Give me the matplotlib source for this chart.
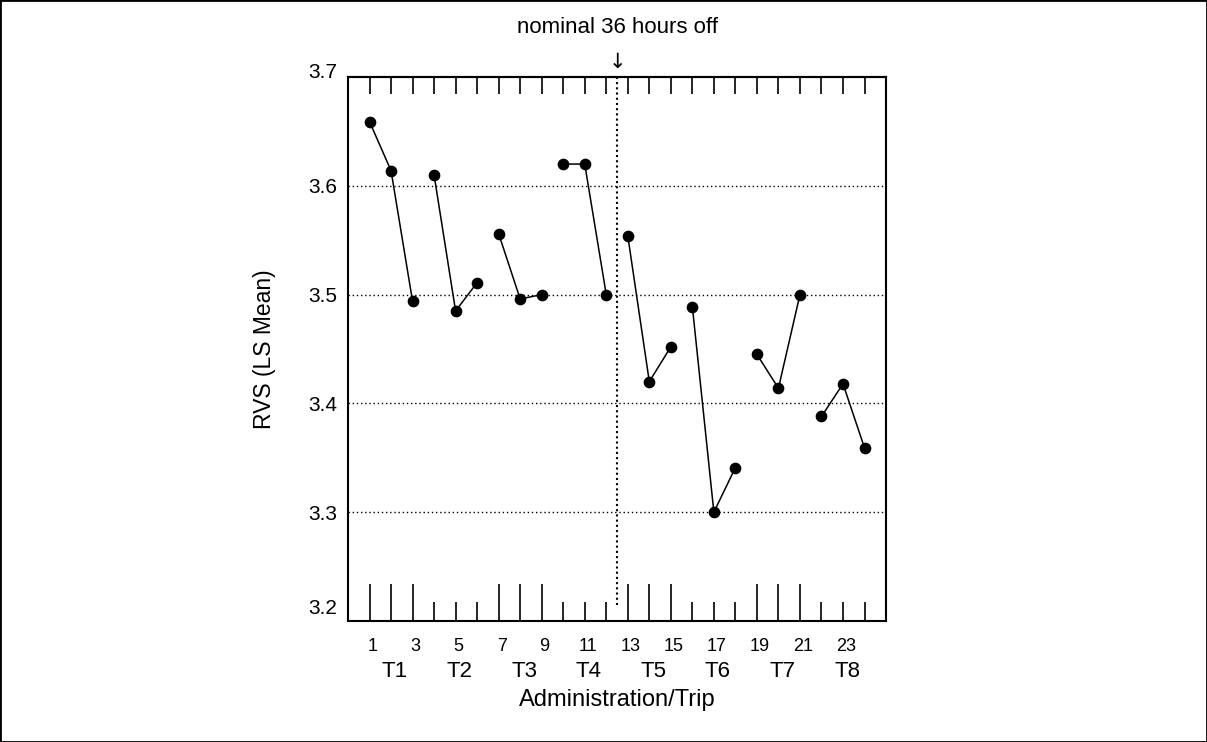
"""
RVS (LS Mean) by administration, grouped by trip
"""
import matplotlib
matplotlib.use("Agg")
import matplotlib.pyplot as plt
from matplotlib.patches import Rectangle
from matplotlib.transforms import ScaledTranslation
import numpy as np

plt.rcParams['font.family'] = ['Liberation Sans', 'DejaVu Sans']

# Data
administration = list(range(1, 25))
rvs_mean = [3.659, 3.614, 3.494,
            3.610, 3.485, 3.511,
            3.556, 3.496, 3.500,
            3.620, 3.620, 3.500,
            3.554, 3.420, 3.452,
            3.489, 3.300, 3.341,
            3.445, 3.414, 3.500,
            3.388, 3.418, 3.359]
trip_labels = ['T1', 'T2', 'T3', 'T4', 'T5', 'T6', 'T7', 'T8']
admin_per_trip = 3
y_ticks = [3.2, 3.3, 3.4, 3.5, 3.6, 3.7]
grid_levels = [3.3, 3.4, 3.5, 3.6]
number_labels = list(range(1, 24, 2))
break_position = 12.5

fig = plt.figure(figsize=(12.07, 7.42), dpi=100)
ax = fig.add_axes([0.2883, 0.1631, 0.4458, 0.7331])

# Lines only join administrations within the same trip
x = np.array(administration)
y = np.array(rvs_mean)
for i in range(len(trip_labels)):
    sl = slice(i * admin_per_trip, (i + 1) * admin_per_trip)
    ax.plot(x[sl], y[sl], color='black', linewidth=1.1, marker='o',
            markersize=7.4, markerfacecolor='black', markeredgecolor='black', zorder=3)

for lvl in grid_levels:
    ax.axhline(lvl, color='black', linestyle=(0, (1, 2)), linewidth=1.0, zorder=1)
ax.plot([break_position, break_position], [3.215, 3.7], color='black',
        linestyle=(0, (1, 1.5)), linewidth=1.5, zorder=1)

ax.set_xlim(0, 25)
ax.set_ylim(3.2, 3.7)

for s in ax.spines.values():
    s.set_linewidth(1.5)

# y axis
ax.set_yticks(y_ticks)
ax.set_yticklabels([f'{v:.1f}' for v in y_ticks], fontsize=15)
ax.tick_params(axis='y', length=0, pad=8)
ax.set_ylabel('RVS (LS Mean)', fontsize=16.5, labelpad=23)
# end labels sit a little above their level in the original
lift = {3.2: 14, 3.7: 7}
for v, lab in zip(y_ticks, ax.get_yticklabels()):
    if v in lift:
        lab.set_transform(lab.get_transform() + ScaledTranslation(0, lift[v] / 100, fig.dpi_scale_trans))

# bottom ticks: long for odd trips, short for even trips
long_ticks = [a for a in administration if ((a - 1) // admin_per_trip) % 2 == 0]
short_ticks = [a for a in administration if ((a - 1) // admin_per_trip) % 2 == 1]
ax.set_xticks(long_ticks)
ax.set_xticks(short_ticks, minor=True)
ax.set_xticklabels([])
ax.tick_params(axis='x', which='major', direction='in', length=27, width=1.2, labelbottom=False)
ax.tick_params(axis='x', which='minor', direction='in', length=13.5, width=1.2)

# top ticks, all the same length
top = ax.secondary_xaxis('top')
top.set_xticks(administration)
top.tick_params(direction='in', length=12, width=1.2, labeltop=False)
top.spines['top'].set_linewidth(1.5)

xt = ax.get_xaxis_transform()
for n in number_labels:
    ax.annotate(str(n), xy=(n, 0), xycoords=xt, xytext=(3, -26),
                textcoords='offset pixels', ha='center', va='center', fontsize=13)
for i, lab in enumerate(trip_labels):
    centre = administration[i * admin_per_trip + 1]
    ax.annotate(lab, xy=(centre, 0), xycoords=xt, xytext=(4, -51),
                textcoords='offset pixels', ha='center', va='center', fontsize=16)
ax.annotate('Administration/Trip', xy=(12.5, 0), xycoords=xt, xytext=(0, -79),
            textcoords='offset pixels', ha='center', va='center', fontsize=17)

ax.annotate('nominal 36 hours off', xy=(break_position, 1), xycoords=xt, xytext=(0, 50),
            textcoords='offset pixels', ha='center', va='center', fontsize=16)
ax.annotate('\u2193', xy=(break_position, 1), xycoords=xt, xytext=(0, 15),
            textcoords='offset pixels', ha='center', va='center', fontsize=15,
            family='DejaVu Sans')

fig.patches.append(Rectangle((0, 0), 1, 1, transform=fig.transFigure, fill=False,
                             edgecolor='black', linewidth=2))

fig.savefig('out.png', dpi=100)
